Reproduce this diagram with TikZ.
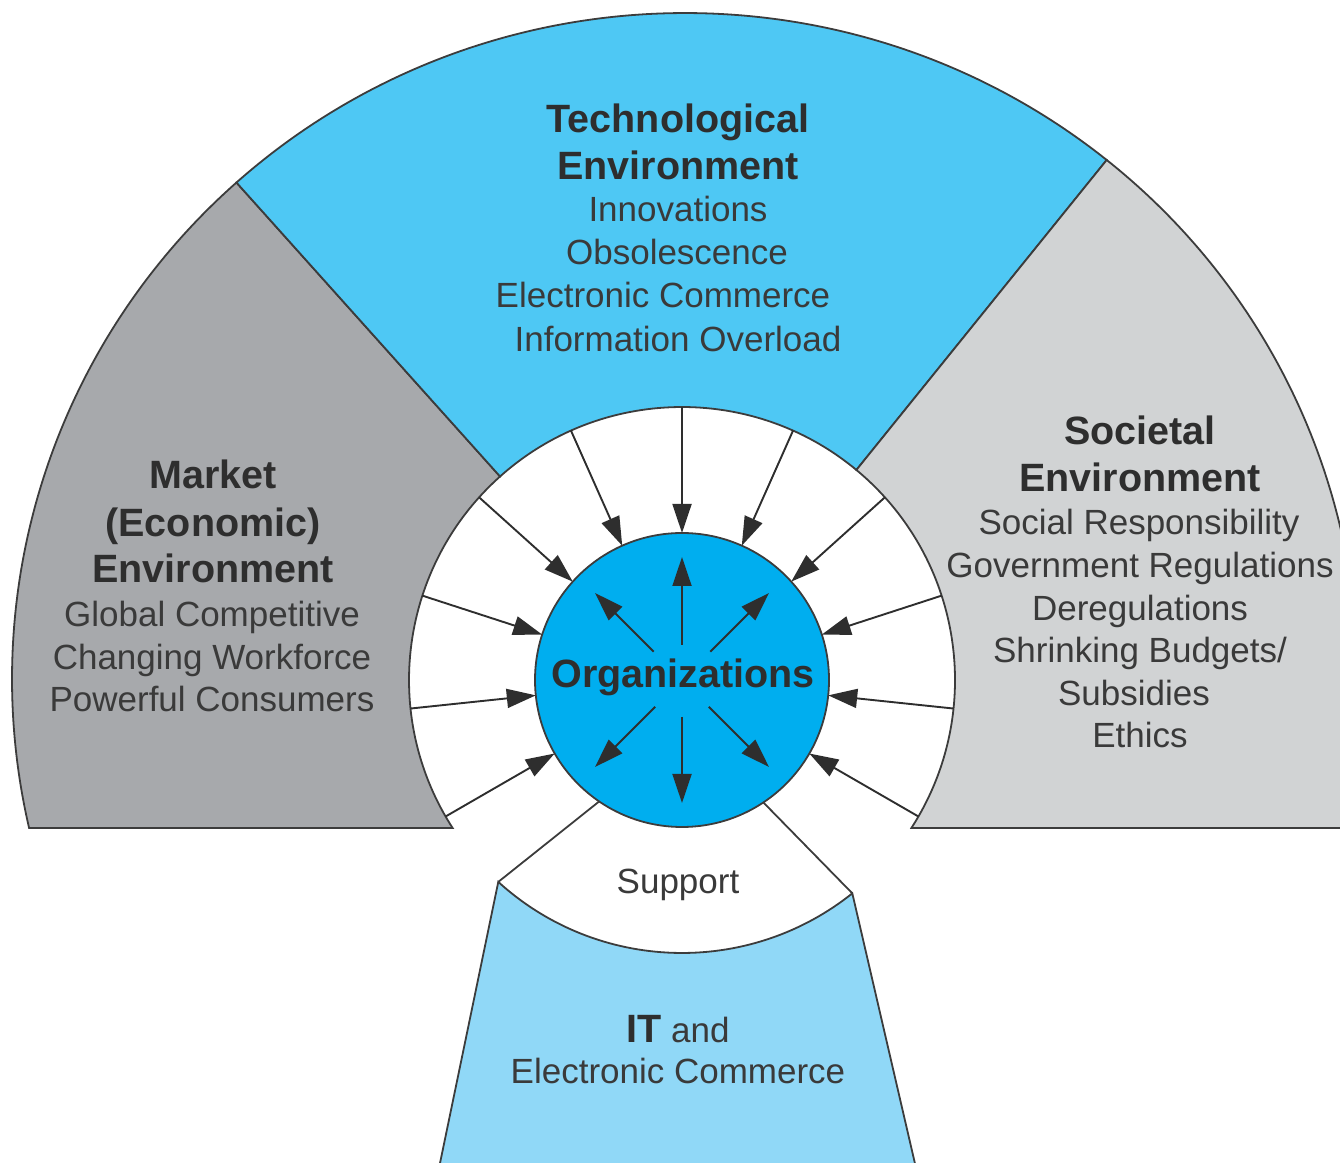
\documentclass[tikz,border=0pt]{standalone}
\usepackage{fontspec}
\setmainfont{Liberation Sans}
\usetikzlibrary{arrows.meta,calc}
\definecolor{techblue}{HTML}{4EC8F4}
\definecolor{orgblue}{HTML}{00AEEF}
\definecolor{itblue}{HTML}{90D8F7}
\definecolor{mktgray}{HTML}{A7A9AC}
\definecolor{socgray}{HTML}{D1D3D4}
\definecolor{edgegray}{HTML}{3C3C3C}
\definecolor{txtreg}{HTML}{3A3A3A}
\definecolor{txtbold}{HTML}{2E2E2E}
\begin{document}
\begin{tikzpicture}[x=1pt,y=1pt,
  region/.style={draw=edgegray, line width=1.8pt},
  inarrow/.style={draw=txtbold, line width=1.9pt, -{Triangle[length=29pt,width=19pt]}},
  outarrow/.style={inarrow},
  reg/.style={text=txtreg, font=\fontsize{35}{42}\selectfont, anchor=base, inner sep=0pt},
  ttl/.style={text=txtbold, font=\fontsize{39.5}{47}\selectfont\bfseries, anchor=base, inner sep=0pt},
]
\useasboundingbox (0,0) rectangle (1340,1162);
\clip (0,0) rectangle (1340,1162);
\coordinate (O) at (682,482);
\coordinate (E) at (685,483);
% outer ellipse points
\coordinate (A) at ($(E)+(192.93:673 and 666)$);
\coordinate (B) at ($(E)+(131.8:673 and 666)$);
\coordinate (F) at ($(E)+(51.2:673 and 666)$);
% ring points
\coordinate (C) at ($(O)+(131.8:273)$);
\coordinate (G) at ($(O)+(50.3:273)$);
\coordinate (H) at ($(O)+(-32.83:273)$);
\coordinate (SL) at ($(O)+(227.7:273)$);
\coordinate (SR) at ($(O)+(308.6:273)$);
\coordinate (SLi) at ($(O)+(235.7:147)$);
\coordinate (SRi) at ($(O)+(303.6:147)$);
\coordinate (ITbl) at (439,-6);
\coordinate (ITbr) at (916,-6);

% Market sector
\path[region, fill=mktgray] (A) arc[start angle=192.93, end angle=131.8, x radius=673, y radius=666]
  -- (C) arc[start angle=131.8, end angle=212.83, radius=273] -- cycle;
% Technological sector
\path[region, fill=techblue] (B) arc[start angle=131.8, end angle=51.2, x radius=673, y radius=666]
  -- (G) arc[start angle=50.3, end angle=131.8, radius=273] -- cycle;
% Societal sector
\path[region, fill=socgray] (F) arc[start angle=51.2, end angle=-12.93, x radius=673, y radius=666]
  -- (H) arc[start angle=-32.83, end angle=50.3, radius=273] -- cycle;
% IT region
\path[region, fill=itblue] (SL) arc[start angle=227.7, end angle=308.6, radius=273]
  -- (ITbr) -- (ITbl) -- cycle;
% Support wedge sides
\draw[region] (SLi) -- (SL);
\draw[region] (SRi) -- (SR);

% Organizations circle
\node[circle, draw=edgegray, line width=1.8pt, fill=orgblue, minimum size=294pt,
      inner sep=0pt, outer sep=0pt] (org) at (O) {};

% inward arrows
\foreach \a in {18,42,66,90,114,138,162,186,210,354,330} {
  \coordinate (tail\a) at ($(O)+(\a:273)$);
  \draw[inarrow] (tail\a) -- (org.\a);
}
% outward arrows
\foreach \a/\r in {90/35,45/40,135/40,270/37,225/38,315/38} {
  \coordinate (os\a) at ($(O)+(\a:\r)$);
  \coordinate (oe\a) at ($(O)+(\a:123)$);
  \draw[outarrow] (os\a) -- (oe\a);
}

% Organizations label
\node[ttl] (orglabel) at (683,474) {Organizations};

% Technological text
\node[ttl] (tech1) at (678,1029) {Technological};
\node[ttl] (tech2) at (678,982) {Environment};
\node[reg] (tech3) at (678,940) {Innovations};
\node[reg] (tech4) at (677,897) {Obsolescence};
\node[reg] (tech5) at (663,854) {Electronic Commerce};
\node[reg] (tech6) at (678,810) {Information Overload};

% Market text
\node[ttl] (mkt1) at (213,673) {Market};
\node[ttl] (mkt2) at (213,625) {(Economic)};
\node[ttl] (mkt3) at (213,579) {Environment};
\node[reg] (mkt4) at (212,535) {Global Competitive};
\node[reg] (mkt5) at (212,492) {Changing Workforce};
\node[reg] (mkt6) at (212,450) {Powerful Consumers};

% Societal text
\node[ttl] (soc1) at (1140,717) {Societal};
\node[ttl] (soc2) at (1140,670) {Environment};
\node[reg] (soc3) at (1139,627) {Social Responsibility};
\node[reg] (soc4) at (1140,584) {Government Regulations};
\node[reg] (soc5) at (1140,541.5) {Deregulations};
\node[reg] (soc6) at (1140,499) {Shrinking Budgets/};
\node[reg] (soc7) at (1134,456.5) {Subsidies};
\node[reg] (soc8) at (1140,414) {Ethics};

% Support and IT
\node[reg] (support) at (678,269) {Support};
\node[reg] (it1) at (678,120) {{\bfseries\fontsize{39.5}{47}\selectfont\color{txtbold}IT} and};
\node[reg] (it2) at (678,79) {Electronic Commerce};
\end{tikzpicture}
\end{document}
